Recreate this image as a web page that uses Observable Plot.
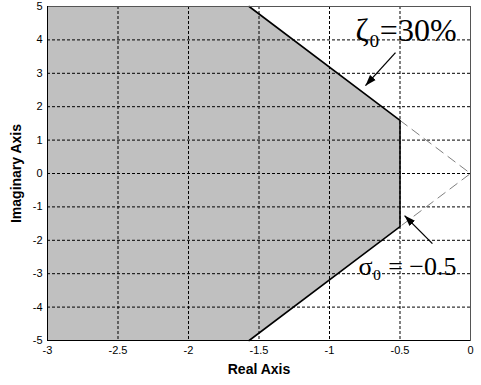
<!DOCTYPE html>
<html><head><meta charset="utf-8">
<script src="https://cdn.jsdelivr.net/npm/d3@7"></script>
<script src="https://cdn.jsdelivr.net/npm/@observablehq/plot@0.6"></script>
<style>body{margin:0;background:#fff}</style>
</head><body><div id="chart"></div>
<script>
// ticks
const xTicks = [-3, -2.5, -2, -1.5, -1, -0.5, 0];
const yTicks = [-5, -4, -3, -2, -1, 0, 1, 2, 3, 4, 5];
const xGrid = [-2.5, -2, -1.5, -1, -0.5];
const yGrid = [-4, -3, -2, -1, 0, 1, 2, 3, 4];

// admissible region (shaded)
const regionX = [-3, -1.57, -0.5];
const regionUpper = [5, 5, 1.59];
const regionLower = [-5, -5, -1.59];

// solid boundary
const boundX = [-1.57, -0.5, -0.5, -1.57];
const boundY = [5, 1.59, -1.59, -5];

// dashed continuation to origin
const dashX = [-0.5, 0, -0.5];
const dashY = [1.59, 0, -1.59];

// annotations
const labelText = ["ζ₀=30%", "σ₀ = −0.5"];
const labelX = [-0.816, -0.794];
const labelY = [3.98, -3.05];
const labelSize = [32, 26];
const arrowX1 = [-0.532, -0.27];
const arrowY1 = [3.62, -2.10];
const arrowX2 = [-0.745, -0.468];
const arrowY2 = [2.63, -1.26];

const region = regionX.map((x, i) => ({x, y1: regionLower[i], y2: regionUpper[i]}));
const bound = boundX.map((x, i) => ({x, y: boundY[i]}));
const dash = dashX.map((x, i) => ({x, y: dashY[i]}));
const arrows = arrowX1.map((x1, i) => ({x1, y1: arrowY1[i], x2: arrowX2[i], y2: arrowY2[i]}));
const labels = labelText.map((t, i) => ({t, x: labelX[i], y: labelY[i], s: labelSize[i]}));

const filledArrow = (color) => {
  const m = d3.create("svg:marker")
    .attr("viewBox", "-11 -4 11 8")
    .attr("markerWidth", 11).attr("markerHeight", 8)
    .attr("markerUnits", "userSpaceOnUse")
    .attr("orient", "auto").attr("refX", 0).attr("refY", 0);
  m.append("path").attr("d", "M-11,-3.8L0,0L-11,3.8Z").attr("fill", color).attr("stroke", "none");
  return m.node();
};

const chart = Plot.plot({
  width: 481, height: 385,
  marginLeft: 47, marginRight: 11, marginTop: 6, marginBottom: 45,
  style: {fontFamily: "'Liberation Sans', Arial, sans-serif", fontSize: "11px", background: "#fff"},
  x: {domain: [-3, 0]},
  y: {domain: [-5, 5]},
  marks: [
    Plot.areaY(region, {x: "x", y1: "y1", y2: "y2", fill: "#c0c0c0", curve: "linear"}),
    Plot.ruleX(xGrid, {stroke: "#000", strokeWidth: 1, strokeDasharray: "3,2"}),
    Plot.ruleY(yGrid, {stroke: "#000", strokeWidth: 1, strokeDasharray: "3,2"}),
    Plot.line(dash, {x: "x", y: "y", stroke: "#808080", strokeWidth: 1, strokeDasharray: "9,6"}),
    Plot.line(bound, {x: "x", y: "y", stroke: "#000", strokeWidth: 1.6}),
    Plot.frame({stroke: "#555"}),
    Plot.ruleX([-3], {stroke: "#000"}),
    Plot.ruleY([-5], {stroke: "#000"}),
    Plot.link(arrows, {x1: "x1", y1: "y1", x2: "x2", y2: "y2", stroke: "#000", strokeWidth: 1.3, markerEnd: filledArrow}),
    Plot.text(labels, {x: "x", y: "y", text: "t", fontSize: "s", textAnchor: "start", lineAnchor: "bottom",
      fontFamily: "'Liberation Serif', 'Times New Roman', serif", fill: "#000"}),
    Plot.axisX({ticks: xTicks, tickFormat: d => String(d), tickSize: 0, tickPadding: 6,
      label: "Real Axis", labelAnchor: "center", labelOffset: 33, labelArrow: "none"}),
    Plot.axisY({ticks: yTicks, tickFormat: d => String(d), tickSize: 0, tickPadding: 5,
      label: "Imaginary Axis", labelAnchor: "center", labelOffset: 36, labelArrow: "none"})
  ]
});
d3.select(chart).selectAll("[aria-label$='axis label'] text, [aria-label$='axis label']")
  .style("font-weight", "bold").style("font-size", "14px");
document.getElementById("chart").appendChild(chart);
</script>
</body></html>
